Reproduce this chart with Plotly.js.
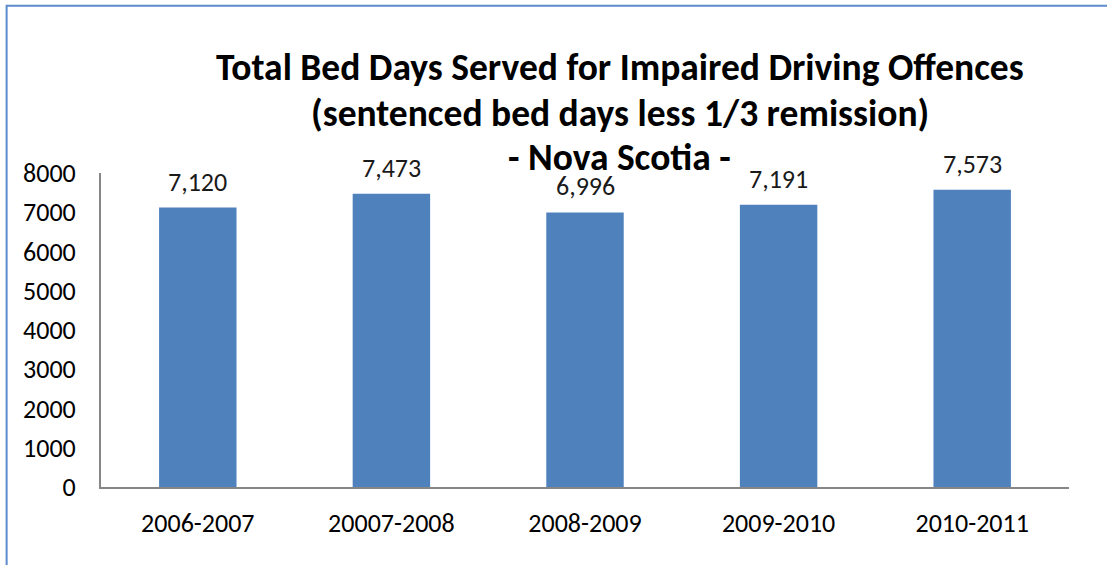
<!DOCTYPE html>
<html>
<head>
<meta charset="utf-8">
<script src="https://cdn.plot.ly/plotly-3.0.1.min.js"></script>
<style>
html,body{margin:0;padding:0;background:#fff;}
#chart{width:1107px;height:565px;}
</style>
</head>
<body>
<div id="chart"></div>
<script>
const categories = ["2006-2007", "20007-2008", "2008-2009", "2009-2010", "2010-2011"];
const bedDays = [7120, 7473, 6996, 7191, 7573];
const dataLabels = ["7,120", "7,473", "6,996", "7,191", "7,573"];
const yTicks = [0, 1000, 2000, 3000, 4000, 5000, 6000, 7000, 8000];
const titleLines = [
  "Total Bed Days Served for Impaired Driving Offences",
  "(sentenced bed days less 1/3 remission)",
  "- Nova Scotia -"
];

const FONT = "Carlito, Calibri, Lato, sans-serif";

const trace = {
  type: "bar",
  x: categories,
  y: bedDays,
  width: 0.4,
  marker: {color: "#4F81BD"},
  hoverinfo: "none"
};

const annotations = categories.map((c, i) => ({
  x: c, y: bedDays[i], xref: "x", yref: "y",
  text: dataLabels[i], showarrow: false,
  yanchor: "bottom", yshift: 8,
  font: {family: FONT, size: 26, color: "#1a1a1a"}
}));

const titleY = [1.338, 1.19, 1.05];
titleLines.forEach((t, i) => {
  annotations.push({
    x: 0.536, y: titleY[i], xref: "paper", yref: "paper",
    text: "<b>" + t + "</b>", showarrow: false,
    xanchor: "center", yanchor: "middle",
    font: {family: FONT, size: 37.5, color: "#000"}
  });
});

const layout = {
  width: 1107, height: 565,
  margin: {l: 101, r: 38, t: 173, b: 78},
  paper_bgcolor: "#fff", plot_bgcolor: "#fff",
  showlegend: false,
  xaxis: {
    type: "category",
    showline: true, linecolor: "#868686", linewidth: 2,
    ticks: "", showgrid: false, zeroline: false,
    ticklabelstandoff: 12,
    tickfont: {family: FONT, size: 26, color: "#000"}
  },
  yaxis: {
    range: [0, 8000],
    tickvals: yTicks,
    showline: true, linecolor: "#868686", linewidth: 2,
    ticks: "", showgrid: false, zeroline: false,
    ticklabelstandoff: 18,
    tickfont: {family: FONT, size: 26, color: "#000"}
  },
  annotations: annotations,
  shapes: [{
    type: "rect", xref: "paper", yref: "paper",
    x0: -0.0975, x1: 1.2, y0: -0.4, y1: 1.533,
    line: {color: "#5B8BCB", width: 2}, fillcolor: "rgba(0,0,0,0)",
    layer: "above"
  }]
};

Plotly.newPlot("chart", [trace], layout, {displayModeBar: false, staticPlot: true});
</script>
</body>
</html>
